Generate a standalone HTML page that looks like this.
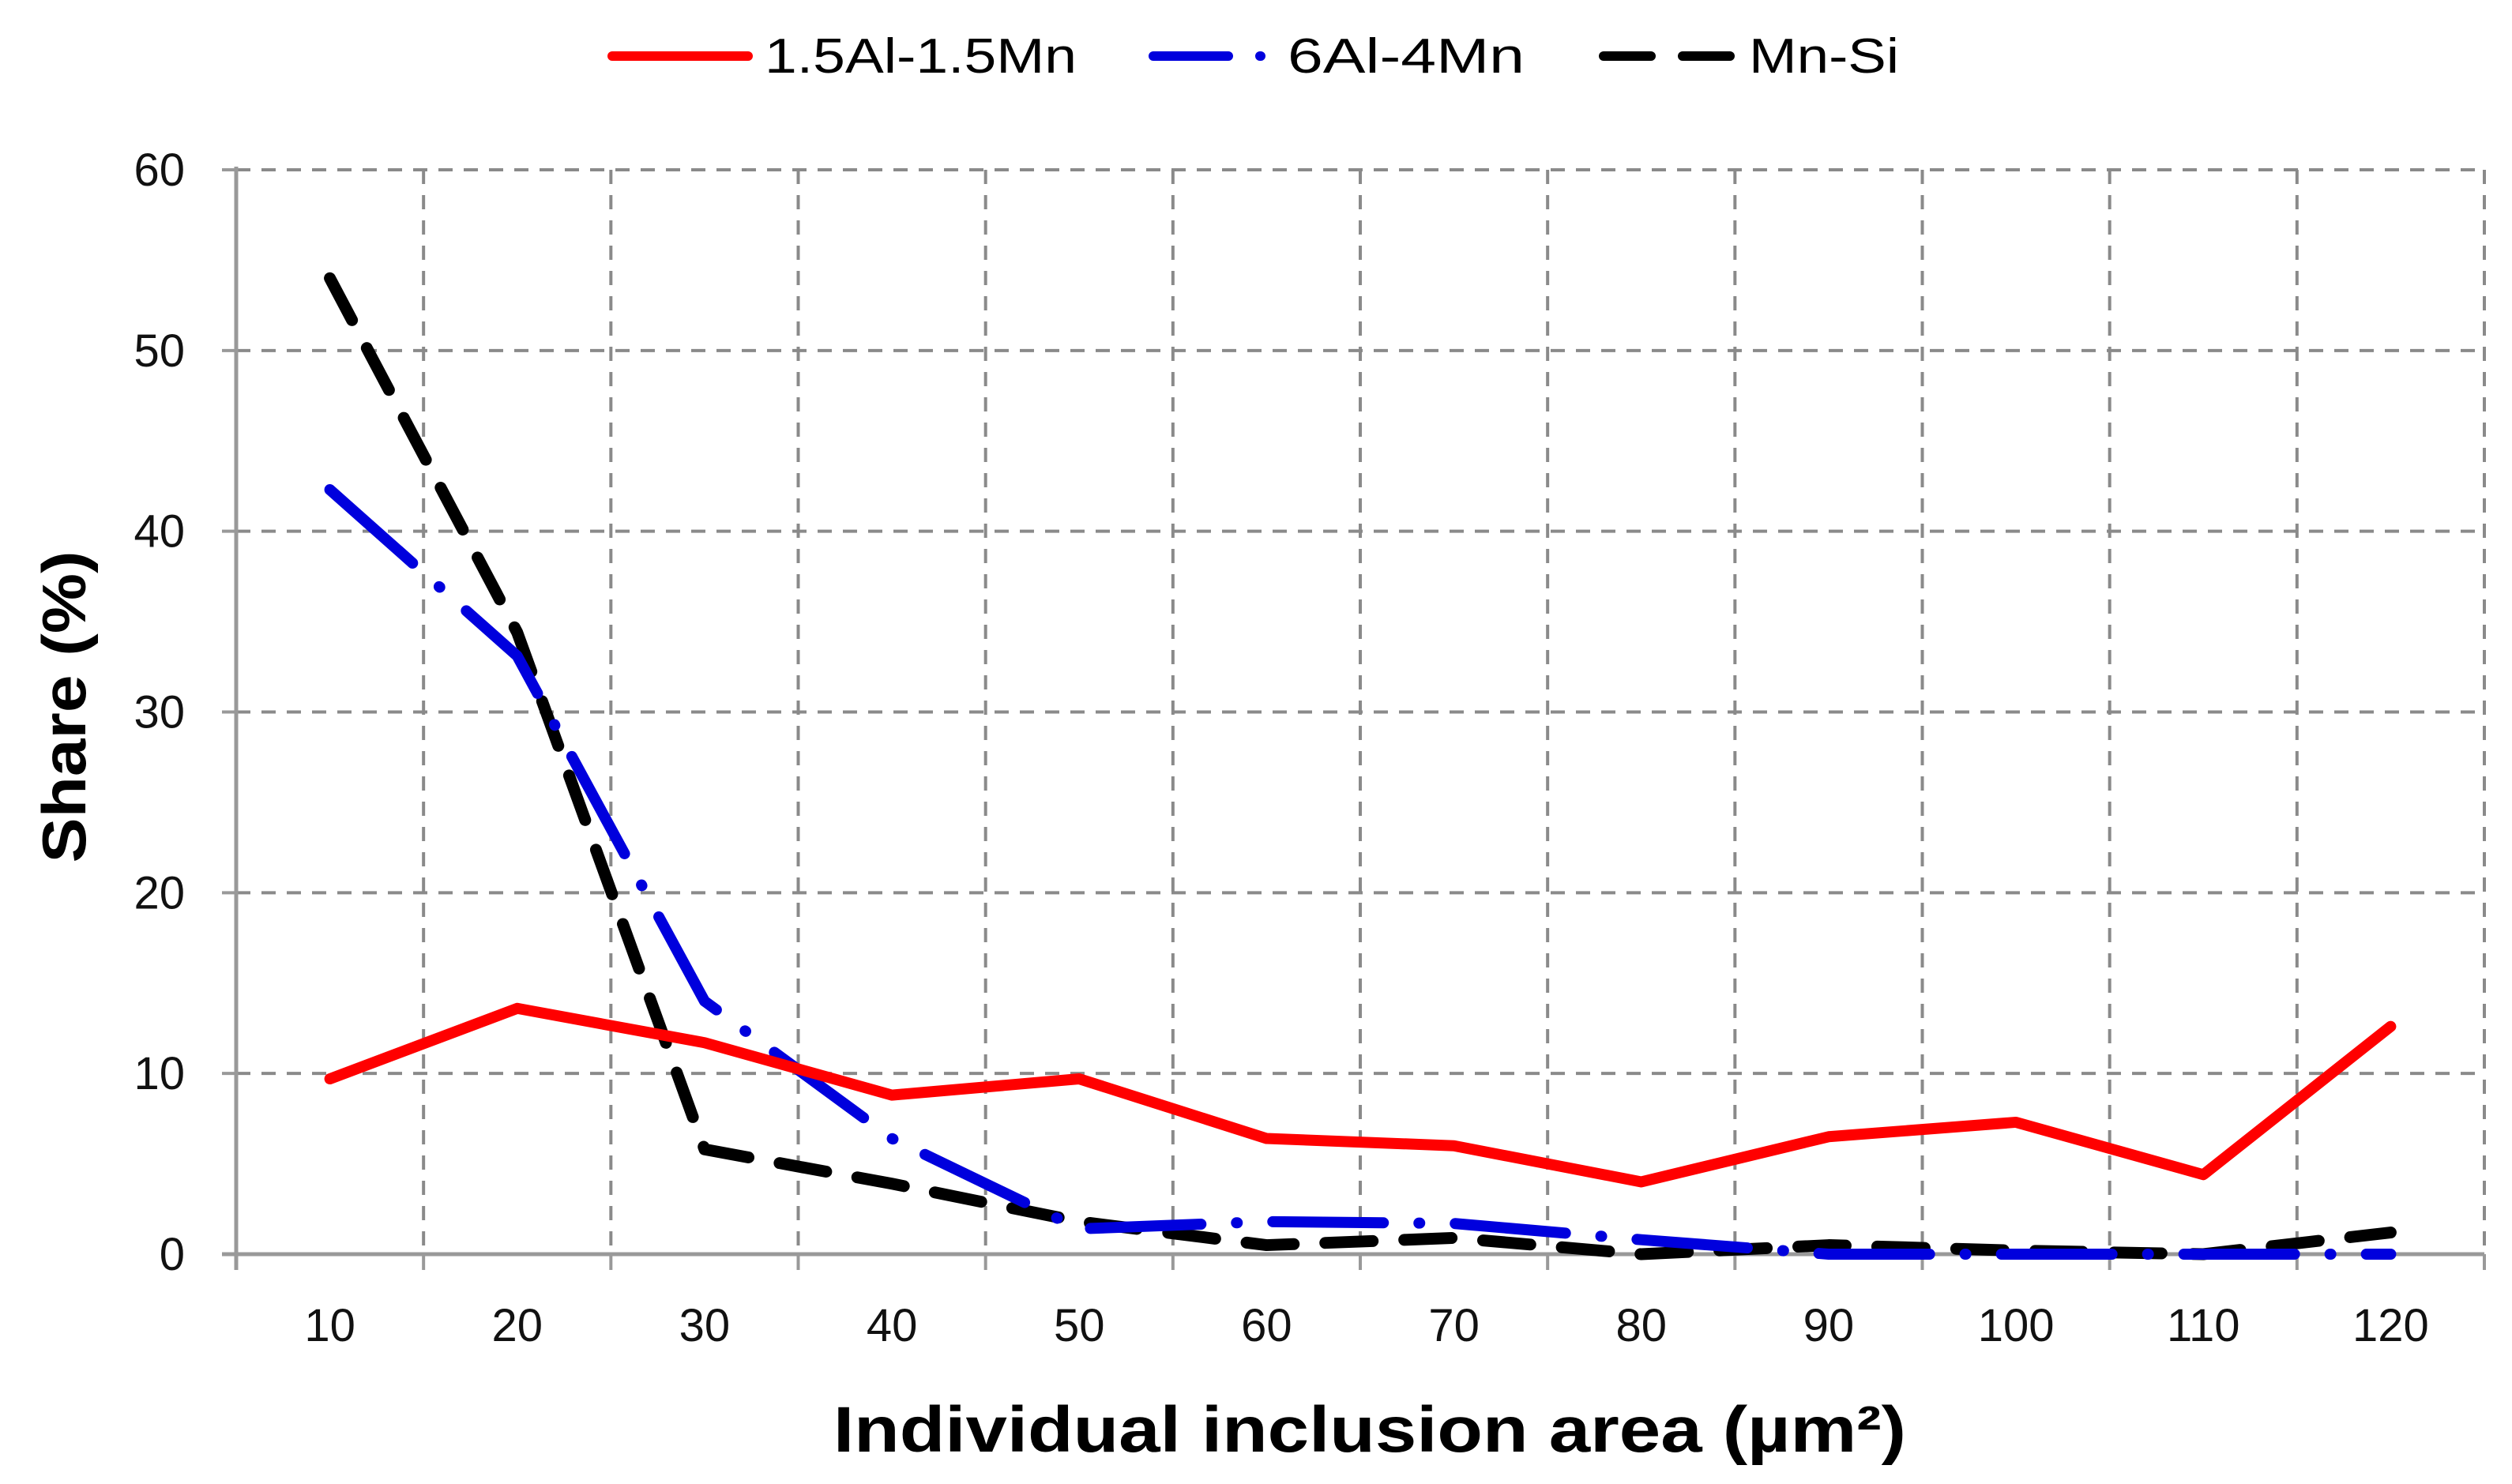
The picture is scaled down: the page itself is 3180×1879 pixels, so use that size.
<!DOCTYPE html>
<html><head><meta charset="utf-8"><style>
html,body{margin:0;padding:0;background:#fff;}
svg{display:block;font-family:"Liberation Sans",sans-serif;}
</style></head><body>
<svg id="chart" width="3180" height="1879" viewBox="0 0 3180 1879" xmlns="http://www.w3.org/2000/svg">
<g id="grid"></g>
<g id="axes"></g>
<g id="series"></g>
<g id="legend">
  <line x1="775" y1="71" x2="947" y2="71" stroke="#ff0000" stroke-width="12" stroke-linecap="round"/>
  <text x="968" y="92" font-size="62" textLength="395" lengthAdjust="spacingAndGlyphs">1.5Al-1.5Mn</text>
  <line x1="1460" y1="71" x2="1622" y2="71" stroke="#0000dd" stroke-width="12" stroke-linecap="round" stroke-dasharray="95 40 1 40"/>
  <text x="1630" y="92" font-size="62" textLength="300" lengthAdjust="spacingAndGlyphs">6Al-4Mn</text>
  <line x1="2030" y1="71" x2="2190" y2="71" stroke="#000" stroke-width="12" stroke-linecap="round" stroke-dasharray="60 40"/>
  <text x="2214" y="92" font-size="62" textLength="190" lengthAdjust="spacingAndGlyphs">Mn-Si</text>
</g>
<text transform="translate(108,895) rotate(-90)" text-anchor="middle" font-size="78" font-weight="bold" textLength="395" lengthAdjust="spacingAndGlyphs">Share (%)</text>
<text x="1734" y="1838" text-anchor="middle" font-size="82" font-weight="bold" textLength="1358" lengthAdjust="spacingAndGlyphs">Individual inclusion area (µm²)</text>
</svg>
<script>
const categories = [10,20,30,40,50,60,70,80,90,100,110,120];
const series_red = [9.7,13.6,11.7,8.8,9.7,6.4,6.0,4.0,6.5,7.3,4.4,12.6];
const series_blue = [42.3,33.1,14.0,6.4,1.4,1.8,1.7,0.8,0,0,0,0];
const series_black = [54.0,34.4,5.8,3.9,1.8,0.5,0.9,0,0.5,0.2,0,1.2];
const yTicks = [0,10,20,30,40,50,60];

const NS = "http://www.w3.org/2000/svg";
const X0 = 299, X1 = 3145, Y0 = 1588, Y1 = 215, YMAX = 60;
const cw = (X1 - X0) / categories.length;
function xPos(i){ return X0 + cw * (i + 0.5); }
function xEdge(i){ return X0 + cw * i; }
function yPos(v){ return Y0 - (v / YMAX) * (Y0 - Y1); }
function mk(tag, attrs, parent){
  const el = document.createElementNS(NS, tag);
  for (const k in attrs) el.setAttribute(k, attrs[k]);
  parent.appendChild(el);
  return el;
}
const grid = document.getElementById('grid');
const axes = document.getElementById('axes');
const ser = document.getElementById('series');

yTicks.forEach(function(t){
  const y = yPos(t);
  if (t > 0) {
    const g = mk('line', {x1:X0, y1:y, x2:X1, y2:y, stroke:'#8a8a8a', 'stroke-width':4, 'stroke-dasharray':'18 14'}, grid);
    
    
  }
  const tk = mk('line', {x1:X0-18, y1:y, x2:X0, y2:y, stroke:'#999', 'stroke-width':4}, axes);
  
  
  const lb = mk('text', {x:234, y:y+20, 'text-anchor':'end', 'font-size':58, fill:'#111'}, axes);
  lb.textContent = t;
  
  
});
for (let i = 1; i <= categories.length; i++) {
  const x = xEdge(i);
  const g = mk('line', {x1:x, y1:Y1, x2:x, y2:Y0, stroke:'#8a8a8a', 'stroke-width':4, 'stroke-dasharray':'18 14'}, grid);
  
  
}
for (let i = 0; i <= categories.length; i++) {
  const x = xEdge(i);
  const tk = mk('line', {x1:x, y1:Y0, x2:x, y2:Y0+20, stroke:'#999', 'stroke-width':4}, axes);
  
  
}
categories.forEach(function(c, i){
  const lb = mk('text', {x:xPos(i), y:1698, 'text-anchor':'middle', 'font-size':58, fill:'#111'}, axes);
  lb.textContent = c;
  
  
});
const ya = mk('line', {x1:X0, y1:Y1-4, x2:X0, y2:Y0+20, stroke:'#999', 'stroke-width':5}, axes);


const xa = mk('line', {x1:X0-18, y1:Y0, x2:X1, y2:Y0, stroke:'#999', 'stroke-width':5}, axes);



function pts(arr){ return arr.map(function(v,i){ return xPos(i) + ',' + yPos(v); }).join(' '); }
const pb = mk('polyline', {points:pts(series_black), fill:'none', stroke:'#000', 'stroke-width':15, 'stroke-linecap':'round', 'stroke-linejoin':'round', 'stroke-dasharray':'60 40'}, ser);


const pbl = mk('polyline', {points:pts(series_blue), fill:'none', stroke:'#0000dd', 'stroke-width':14, 'stroke-linecap':'round', 'stroke-linejoin':'round', 'stroke-dasharray':'140 45 1 45'}, ser);


const pr = mk('polyline', {points:pts(series_red), fill:'none', stroke:'#ff0000', 'stroke-width':14, 'stroke-linecap':'round', 'stroke-linejoin':'round'}, ser);


</script>
</body></html>
